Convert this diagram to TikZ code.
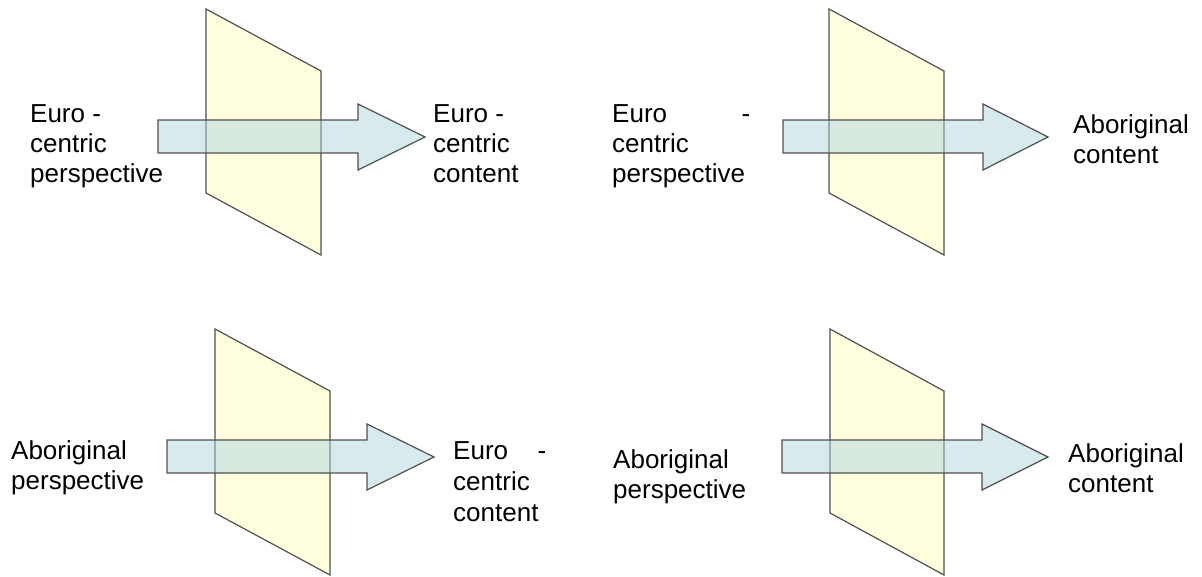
\documentclass[tikz,border=0pt]{standalone}
\usepackage{fontspec}
\setmainfont{Liberation Sans}
\definecolor{panelfill}{RGB}{255,255,224}
\definecolor{edgegray}{RGB}{80,80,80}
\definecolor{arrowfill}{RGB}{172,211,220}
\begin{document}
\begin{tikzpicture}[x=1pt,y=-1pt,
  panel/.style={fill=panelfill,draw=edgegray,line width=1.2pt,line join=miter},
  bigarrow/.style={fill=arrowfill,fill opacity=0.48,draw=edgegray,draw opacity=1,line width=1.2pt,line join=miter},
  lbl/.style={anchor=base west,inner sep=0pt,font=\fontsize{26}{30}\selectfont}]
\useasboundingbox (0,0) rectangle (1202,577);
% panels
\draw[panel] (206,9) -- (321,71) -- (321,255) -- (206,193) -- cycle;
\draw[panel] (829,9) -- (944,71) -- (944,255) -- (829,193) -- cycle;
\draw[panel] (215,329) -- (330,391) -- (330,575) -- (215,513) -- cycle;
\draw[panel] (830,329) -- (944,391) -- (944,575) -- (830,513) -- cycle;
% arrows
\draw[bigarrow] (158,120) -- (358,120) -- (358,104) -- (425,137) -- (358,170) -- (358,153) -- (158,153) -- cycle;
\draw[bigarrow] (783,120) -- (983,120) -- (983,104) -- (1048,137) -- (983,170) -- (983,153) -- (783,153) -- cycle;
\draw[bigarrow] (167,440) -- (367,440) -- (367,424) -- (434,457) -- (367,490) -- (367,473) -- (167,473) -- cycle;
\draw[bigarrow] (782,440) -- (982,440) -- (982,424) -- (1048,457) -- (982,490) -- (982,473) -- (782,473) -- cycle;
% top-left texts
\node[lbl] (tla) at (30,123) {Euro -};
\node[lbl] (tlb) at (30,153) {centric};
\node[lbl] (tlc) at (30,183) {perspective};
\node[lbl] (tlr1) at (433,123) {Euro -};
\node[lbl] (tlr2) at (433,153) {centric};
\node[lbl] (tlr3) at (433,183) {content};
% top-right texts
\node[lbl] (tra) at (612,123) {\hbox to 138pt{Euro\hfill-}};
\node[lbl] (trb) at (612,153) {centric};
\node[lbl] (trc) at (612,183) {perspective};
\node[lbl] (trr1) at (1073,134) {Aboriginal};
\node[lbl] (trr2) at (1073,164) {content};
% bottom-left texts
\node[lbl] (bla) at (11,459) {Aboriginal};
\node[lbl] (blb) at (11,489) {perspective};
\node[lbl] (blr1) at (453,459) {\hbox to 93pt{Euro\hfill-}};
\node[lbl] (blr2) at (453,490) {centric};
\node[lbl] (blr3) at (453,521) {content};
% bottom-right texts
\node[lbl] (bra) at (613,468) {Aboriginal};
\node[lbl] (brb) at (613,498) {perspective};
\node[lbl] (brr1) at (1068,462) {Aboriginal};
\node[lbl] (brr2) at (1068,492) {content};
\end{tikzpicture}
\end{document}
